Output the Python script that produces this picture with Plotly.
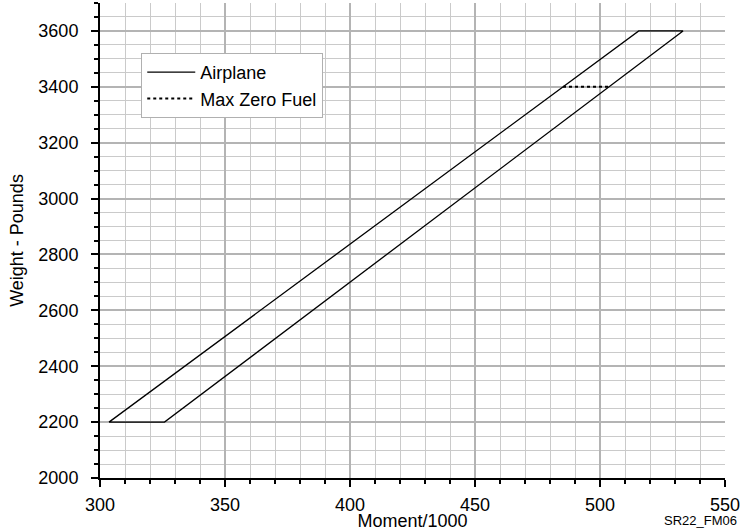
import plotly.graph_objects as go

# Envelope data (Moment/1000, Weight lb)
airplane_moment = [303.6, 325.8, 533.2, 515.5, 303.6]
airplane_weight = [2200, 2200, 3600, 3600, 2200]
mzf_moment = [485.2, 503.6]
mzf_weight = [3400, 3400]

x_ticks = [300, 350, 400, 450, 500, 550]
y_ticks = [2000, 2200, 2400, 2600, 2800, 3000, 3200, 3400, 3600]

FONT = "Liberation Sans, Arial, sans-serif"

fig = go.Figure()
fig.add_trace(go.Scatter(x=airplane_moment, y=airplane_weight, mode="lines",
                         name="Airplane", line=dict(color="black", width=1.3)))
fig.add_trace(go.Scatter(x=mzf_moment, y=mzf_weight, mode="lines",
                         name="Max Zero Fuel", line=dict(color="black", width=2, dash="dot")))

fig.update_layout(
    width=740, height=531,
    margin=dict(l=100, r=15, t=3, b=53, autoexpand=False),
    paper_bgcolor="white", plot_bgcolor="white",
    font=dict(family=FONT, size=18, color="black"),
    showlegend=True,
    legend=dict(x=0.066, y=0.895, xanchor="left", yanchor="top",
                bgcolor="white", bordercolor="#b0b0b0", borderwidth=1,
                itemwidth=48,
                font=dict(size=18, family=FONT)),
)
fig.update_xaxes(
    range=[300, 550], tickvals=x_ticks, showgrid=True, gridcolor="#b4b4b4", gridwidth=2,
    showline=True, linecolor="black", linewidth=2, ticks="outside", ticklen=7,
    tickwidth=1.5, tickcolor="black", zeroline=False, ticklabelstandoff=2,
    ticklabeloverflow="allow", automargin=False,
    minor=dict(dtick=10, tick0=300, showgrid=True, gridcolor="#cacaca", gridwidth=1,
               ticks="outside", ticklen=4, tickcolor="black", tickwidth=1.5),
    title=dict(text="Moment/1000", standoff=9, font=dict(size=18)),
    tickfont=dict(size=18),
)
fig.update_yaxes(
    range=[2000, 3700], tickvals=y_ticks, showgrid=True, gridcolor="#b4b4b4", gridwidth=2,
    showline=True, linecolor="black", linewidth=2, ticks="outside", ticklen=7,
    tickwidth=1.5, tickcolor="black", zeroline=False, ticklabelstandoff=9,
    ticklabeloverflow="allow", automargin=False,
    minor=dict(dtick=50, tick0=2000, showgrid=True, gridcolor="#cacaca", gridwidth=1,
               ticks="outside", ticklen=4, tickcolor="black", tickwidth=1.5),
    title=dict(text="Weight - Pounds", standoff=10, font=dict(size=18)),
    tickfont=dict(size=18),
)
fig.add_annotation(text="SR22_FM06", xref="paper", yref="paper", x=1.022, y=-0.069,
                   xanchor="right", yanchor="top", showarrow=False,
                   font=dict(size=13, family=FONT))

fig.write_html("out.html", config={"displayModeBar": False},
               post_script="document.body.style.margin='0';")
